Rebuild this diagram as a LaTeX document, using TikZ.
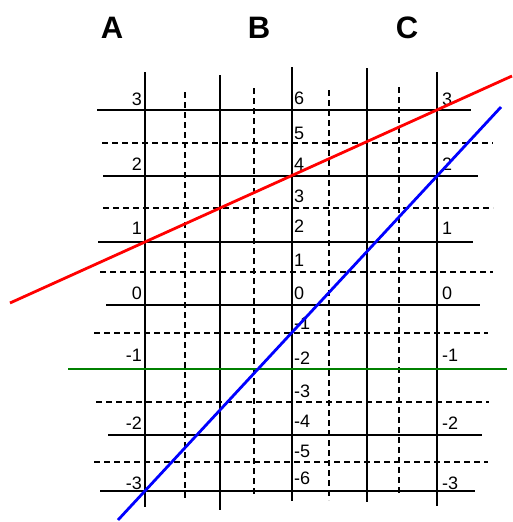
\documentclass[tikz,border=0pt]{standalone}
\usepackage{fontspec}
\setmainfont{Liberation Sans}
\usetikzlibrary{positioning}
\definecolor{scalered}{RGB}{255,0,0}
\definecolor{scaleblue}{RGB}{0,0,255}
\definecolor{scalegreen}{RGB}{0,128,0}
\tikzset{
    mainline/.style={black, line width=1.8pt},
    halfline/.style={black, line width=1.5pt, dash pattern=on 6pt off 4pt},
    plotline/.style={line width=2.8pt, color=#1},
    scalelbl/.style={font=\fontsize{18}{18}\selectfont, inner sep=0pt},
    headlbl/.style={font=\fontsize{31}{31}\selectfont\bfseries, inner sep=0pt}
}

\begin{document}
\begin{tikzpicture}[x=1pt, y=-1pt]
    \useasboundingbox (0,0) rectangle (512,522);
    % scale heads
    \node[headlbl, anchor=base] (headA) at (112,38) {A};
    \node[headlbl, anchor=base] (headB) at (259,38) {B};
    \node[headlbl, anchor=base] (headC) at (407,38) {C};
    % main verticals
    \draw[mainline] (145,72) -- (145,507);
    \draw[mainline] (220,75) -- (220,510);
    \draw[mainline] (292,67) -- (292,501);
    \draw[mainline] (367,68) -- (367,502);
    \draw[mainline] (437,72) -- (437,506);
    % half verticals
    \draw[halfline] (185,92) -- (185,500);
    \draw[halfline] (254,88) -- (254,497);
    \draw[halfline] (329,90) -- (329,500);
    \draw[halfline] (399,87) -- (399,495);
    % main horizontals
    \draw[mainline] (97,110) -- (471,110);
    \draw[mainline] (103,176) -- (478,176);
    \draw[mainline] (98,242) -- (473,242);
    \draw[mainline] (106,305) -- (480,305);
    \draw[mainline] (100,369) -- (480,369);
    \draw[mainline] (108,435) -- (482,435);
    \draw[mainline] (100,491) -- (475,491);
    % half horizontals
    \draw[halfline] (102,143) -- (493,143);
    \draw[halfline] (103,208) -- (493,208);
    \draw[halfline] (100,272) -- (493,272);
    \draw[halfline] (94,333) -- (488,333);
    \draw[halfline] (96,402) -- (489,402);
    \draw[halfline] (94,462) -- (488,462);
    % scale values
    \foreach \v/\y [count=\i] in {3/105, 2/170, 1/234, 0/299, -1/361, -2/429, -3/489} {
        \node[scalelbl, anchor=base east] (lblA\i) at (142,\y) {\v};
        \node[scalelbl, anchor=base west] (lblC\i) at (442,\y) {\v};
    }
    \foreach \v/\y [count=\i] in {6/104, 5/139, 4/170, 3/202, 2/232, 1/266, 0/299, -1/329, -2/364, -3/397, -4/427, -5/457, -6/484}
        \node[scalelbl, anchor=base west] (lblB\i) at (294,\y) {\v};
    % lines across the scales
    \draw[plotline=scalegreen] (68,369) -- (507,369);
    \draw[plotline=scalered] (10,303) -- (512,76);
    \draw[plotline=scaleblue] (118,520) -- (501,107);
\end{tikzpicture}
\end{document}
